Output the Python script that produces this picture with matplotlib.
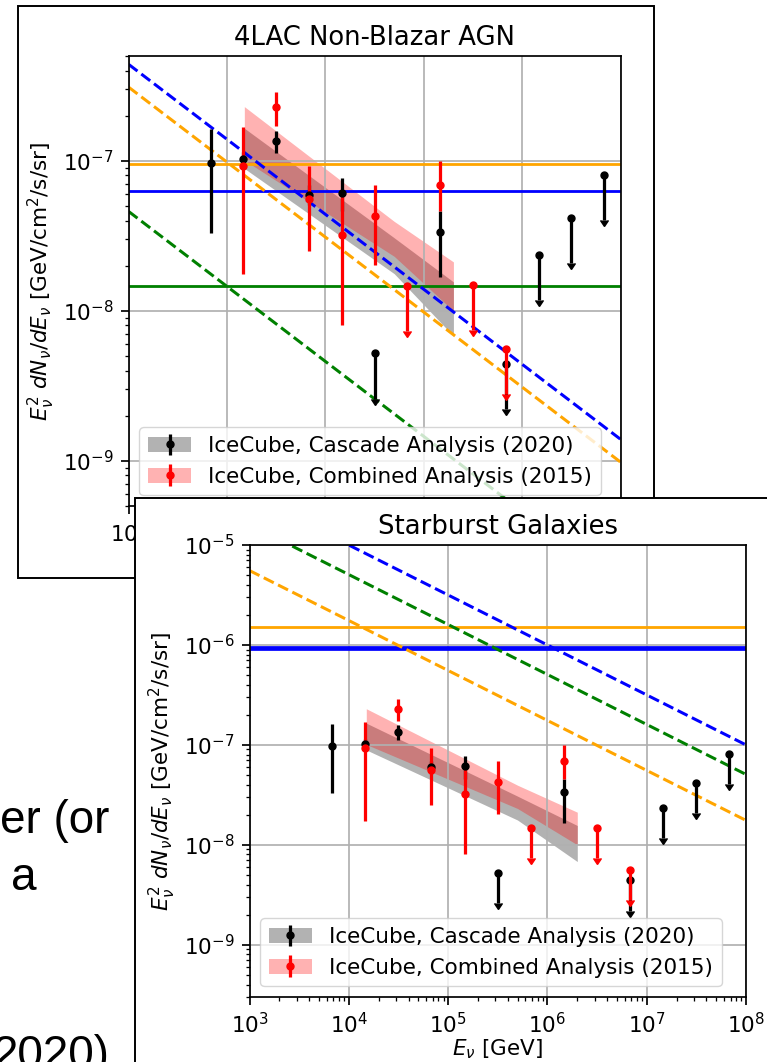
import numpy as np
import matplotlib.pyplot as plt
from matplotlib.patches import Rectangle, Patch

# canvas size in pixels, and the scale of the two pasted plot screenshots
W, H = 767, 1062
S = 1.55

# IceCube cascade analysis (2020), E^2 dN/dE in GeV/cm^2/s/sr
cascade_E = [6.8e3, 1.47e4, 3.16e4, 6.8e4, 1.47e5, 1.47e6]
cascade_F = [9.7e-8, 1.03e-7, 1.36e-7, 5.95e-8, 6.1e-8, 3.35e-8]
cascade_lo = [3.3e-8, 9.0e-8, 1.13e-7, 5.1e-8, 4.6e-8, 1.67e-8]
cascade_hi = [1.62e-7, 1.15e-7, 1.58e-7, 6.9e-8, 7.7e-8, 4.6e-8]
cascade_ul_E = [3.16e5, 6.8e6, 1.47e7, 3.16e7, 6.8e7]
cascade_ul_F = [5.2e-9, 4.4e-9, 2.35e-8, 4.15e-8, 8.1e-8]

# IceCube combined analysis (2015)
combined_E = [1.47e4, 3.16e4, 6.8e4, 1.47e5, 3.16e5, 1.47e6]
combined_F = [9.3e-8, 2.28e-7, 5.6e-8, 3.22e-8, 4.3e-8, 6.95e-8]
combined_lo = [1.75e-8, 1.72e-7, 2.5e-8, 8.1e-9, 2.02e-8, 4.6e-8]
combined_hi = [1.69e-7, 2.86e-7, 9.2e-8, 6.0e-8, 6.9e-8, 1.0e-7]
combined_ul_E = [6.8e5, 3.16e6, 6.8e6]
combined_ul_F = [1.47e-8, 1.49e-8, 5.55e-9]

# power-law fit bands
band_E = [1.5e4, 5.0e5, 2.0e6]
cascade_band_lo = [8.9e-8, 1.77e-8, 6.8e-9]
cascade_band_hi = [1.65e-7, 3.07e-8, 1.56e-8]
combined_band_lo = [1.01e-7, 2.31e-8, 1.0e-8]
combined_band_hi = [2.3e-7, 3.95e-8, 2.12e-8]

# model lines: flat levels and E^-0.5 dashed lines (norm at 1 TeV)
line_colors = ['orange', 'blue', 'green']
agn_flat = [9.5e-8, 6.3e-8, 1.47e-8]
agn_dashed = [3.1e-7, 4.4e-7, 4.6e-8]
sbg_flat = [1.5e-6, 9.35e-7]
sbg_dashed = [5.55e-6, 3.16e-5, 1.6e-5]
dashed_index = -0.5
E_range = [1e3, 1e8]

plt.rcParams.update({
    'font.family': 'DejaVu Sans',
    'font.size': 10 * S,
    'axes.titlesize': 12 * S,
    'axes.linewidth': 0.8 * S,
    'grid.linewidth': 0.8 * S,
    'lines.linewidth': 1.5 * S,
    'xtick.major.size': 3.5 * S, 'ytick.major.size': 3.5 * S,
    'xtick.minor.size': 2 * S, 'ytick.minor.size': 2 * S,
    'xtick.major.width': 0.8 * S, 'ytick.major.width': 0.8 * S,
    'xtick.minor.width': 0.6 * S, 'ytick.minor.width': 0.6 * S,
    'xtick.major.pad': 3.5 * S, 'ytick.major.pad': 3.5 * S,
})


def box(x0, y0, x1, y1):
    return [x0 / W, 1 - y1 / H, (x1 - x0) / W, (y1 - y0) / H]


def limits(ax, E, F, color):
    # arrow from the limit down to half of it, dot on top
    F = np.array(F)
    ax.errorbar(E, F, yerr=0.5 * F, uplims=True, fmt='none', color=color, ms=11)
    ax.plot(E, F, 'o', color=color, ms=5)


def panel(ax, flat, dashed, flat_lw):
    ax.fill_between(band_E, cascade_band_lo, cascade_band_hi, color='gray', alpha=0.6, lw=0)
    ax.fill_between(band_E, combined_band_lo, combined_band_hi, color='red', alpha=0.3, lw=0)
    for c, v, lw in zip(line_colors, flat, flat_lw):
        ax.axhline(v, color=c, lw=lw)
    E = np.array(E_range)
    for c, n in zip(line_colors, dashed):
        ax.plot(E, n * (E / 1e3) ** dashed_index, '--', color=c, lw=1.4 * S)

    F = np.array(cascade_F)
    eb_k = ax.errorbar(cascade_E, F, yerr=[F - cascade_lo, np.array(cascade_hi) - F],
                       fmt='o', color='k', ms=5)
    limits(ax, cascade_ul_E, cascade_ul_F, 'k')

    F = np.array(combined_F)
    eb_r = ax.errorbar(combined_E, F, yerr=[F - combined_lo, np.array(combined_hi) - F],
                       fmt='o', color='red', ms=5)
    limits(ax, combined_ul_E, combined_ul_F, 'red')

    ax.set_xscale('log')
    ax.set_yscale('log')
    ax.set_xlim(E_range)
    ax.grid(True)
    ax.set_ylabel(r'$E_\nu^2\ dN_\nu/dE_\nu$ [GeV/cm$^2$/s/sr]')
    ax.set_xlabel(r'$E_\nu$ [GeV]', labelpad=0)
    handles = [(Patch(color='gray', alpha=0.6, lw=0), eb_k),
               (Patch(color='red', alpha=0.3, lw=0), eb_r)]
    ax.legend(handles, ['IceCube, Cascade Analysis (2020)', 'IceCube, Combined Analysis (2015)'],
              loc='lower left')


fig = plt.figure(figsize=(W / 100, H / 100), dpi=100)

# bits of slide text peeking out on the left
slide_font = dict(fontsize=33, family='Liberation Sans', va='baseline', zorder=0.5)
fig.text(109 / W, 1 - 833 / H, 'er (or', ha='right', **slide_font)
fig.text(11 / W, 1 - 890 / H, 'a', ha='left', **slide_font)
fig.text(110 / W, 1 - 1068 / H, '2020)', ha='right', **slide_font)

# top screenshot
fig.add_artist(Rectangle((18 / W, 1 - 578 / H), 636 / W, 572 / H, transform=fig.transFigure,
                         fc='white', ec='black', lw=1.4, zorder=0.8))
ax1 = fig.add_axes(box(128.6, 56, 620.6, 506))
ax1.set_zorder(1)
panel(ax1, agn_flat, agn_dashed, [1.3 * S, 1.3 * S, 1.3 * S])
ax1.set_ylim(5e-10, 5e-7)
ax1.set_title('4LAC Non-Blazar AGN', pad=5 * S)

# bottom screenshot, pasted over the first one
fig.add_artist(Rectangle((135 / W, 1 - 1100 / H), 700 / W, 602 / H, transform=fig.transFigure,
                         fc='white', ec='black', lw=1.4, zorder=2))
ax2 = fig.add_axes(box(249.5, 545, 746, 997))
ax2.set_zorder(3)
panel(ax2, sbg_flat, sbg_dashed, [1.3 * S, 2.2 * S])
ax2.set_ylim(3e-10, 1e-5)
ax2.set_title('Starburst Galaxies', pad=5 * S)

fig.savefig('out.png', dpi=100)
